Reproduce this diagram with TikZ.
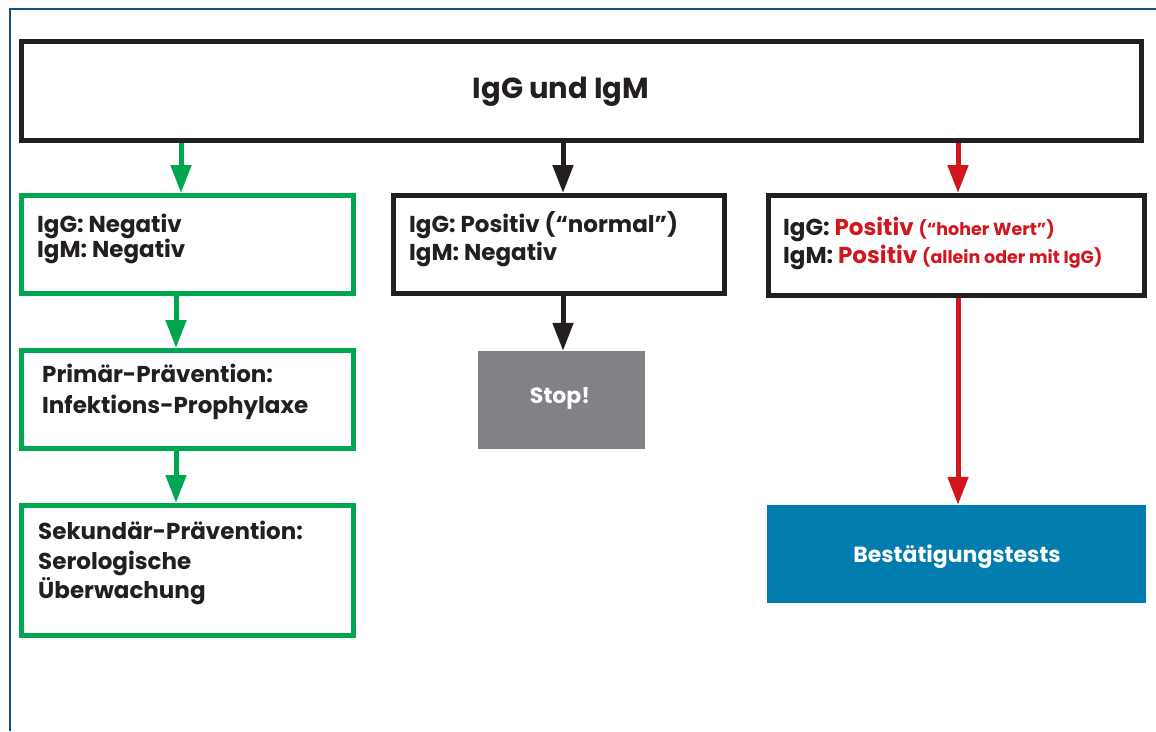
\documentclass[tikz,border=0pt]{standalone}
\usepackage{fontspec}
\setmainfont{Poppins}
\usetikzlibrary{arrows.meta}
\definecolor{cgreen}{HTML}{00A650}
\definecolor{cred}{HTML}{D2161E}
\definecolor{cblack}{HTML}{231F20}
\definecolor{cgray}{HTML}{808285}
\definecolor{cblue}{HTML}{007DAE}
\definecolor{cframe}{HTML}{154F7C}
\tikzset{
  box/.style={draw, line width=5pt, rectangle, inner sep=0pt, fill=white},
  fillbox/.style={rectangle, inner sep=0pt},
  txt/.style={anchor=base west, inner sep=0pt, text=cblack, font=\bfseries\fontsize{23}{23}\selectfont},
  ctxt/.style={anchor=base, inner sep=0pt, text=white, font=\bfseries\fontsize{22}{22}\selectfont},
  conn/.style={line width=5pt, -{Triangle[width=20pt,length=28pt]}},
}
\newcommand{\smallred}{\fontsize{17.5}{17.5}\selectfont}
\begin{document}
\begin{tikzpicture}[x=1pt,y=-1pt]
\useasboundingbox (0,0) rectangle (1156,731);
% frame
\draw[cframe, line width=2pt] (10,731) -- (10,9) -- (1156,9);
% boxes
\node[box, draw=cblack, minimum width=1120pt, minimum height=99pt] (top) at (581.5,91) {};
\node[box, draw=cgreen, minimum width=332pt, minimum height=98pt] (g1) at (187.5,244.5) {};
\node[box, draw=cgreen, minimum width=332pt, minimum height=98pt] (g2) at (187.5,399.5) {};
\node[box, draw=cgreen, minimum width=332pt, minimum height=130pt] (g3) at (187.5,570.5) {};
\node[box, draw=cblack, minimum width=331pt, minimum height=98pt] (mid) at (559,244.5) {};
\node[fillbox, fill=cgray, minimum width=167pt, minimum height=98pt] (stop) at (561.5,400) {};
\node[box, draw=cblack, minimum width=376pt, minimum height=100pt] (rbox) at (956.5,245.5) {};
\node[fillbox, fill=cblue, minimum width=379pt, minimum height=98pt] (conf) at (956.5,554) {};
% connectors
\draw[conn, cgreen] (181,0 |- top.south) -- (181,0 |- g1.north);
\draw[conn, cgreen] (176,0 |- g1.south) -- (176,0 |- g2.north);
\draw[conn, cgreen] (176,0 |- g2.south) -- (176,0 |- g3.north);
\draw[conn, cblack] (563,0 |- top.south) -- (563,0 |- mid.north);
\draw[conn, cblack] (563,0 |- mid.south) -- (563,0 |- stop.north);
\draw[conn, cred] (958,0 |- top.south) -- (958,0 |- rbox.north);
\draw[conn, cred] (958,0 |- rbox.south) -- (958,0 |- conf.north);
% texts
\node[anchor=base, inner sep=0pt, text=cblack, font=\bfseries\fontsize{29}{29}\selectfont] (ttop) at (561,98) {IgG und IgM};
\node[txt] (g1a) at (37,232) {IgG: Negativ};
\node[txt] (g1b) at (37,257) {IgM: Negativ};
\node[txt] (g2a) at (42,382) {Primär-Prävention:};
\node[txt] (g2b) at (42,413) {Infektions-Prophylaxe};
\node[txt] (g3a) at (38,539) {Sekundär-Prävention:};
\node[txt] (g3b) at (38,569) {Serologische};
\node[txt] (g3c) at (38,598) {Überwachung};
\node[txt] (m1) at (409,232) {IgG: Positiv (“normal”)};
\node[txt] (m2) at (409,260) {IgM: Negativ};
\node[txt] (r1) at (783,235) {IgG: \textcolor{cred}{Positiv \smallred(“hoher Wert”)}};
\node[txt] (r2) at (783,263) {IgM: \textcolor{cred}{Positiv \smallred(allein oder mit IgG)}};
\node[ctxt] (tstop) at (560,403) {Stop!};
\node[ctxt] (tconf) at (957,562) {Bestätigungstests};
\end{tikzpicture}
\end{document}
